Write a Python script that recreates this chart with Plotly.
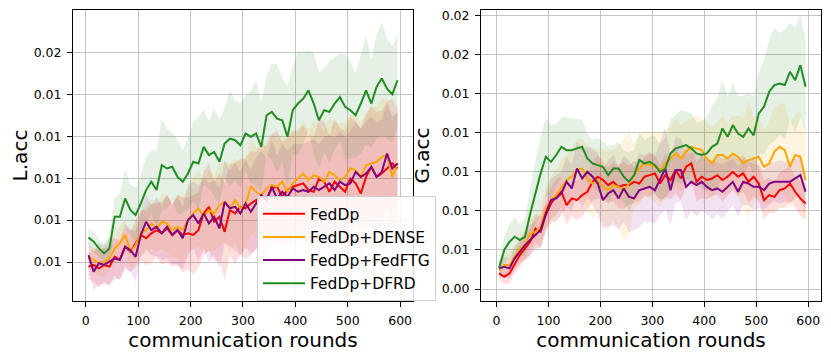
import plotly.graph_objects as go
from plotly.subplots import make_subplots

# communication rounds (sampled every 10 rounds)
rounds = list(range(5, 600, 10))

# ---- left panel: L.acc (mean and spread per method) ----
l_feddp = [0.00578, 0.00586, 0.0057, 0.00586, 0.00578, 0.00625, 0.0061, 0.00673, 0.00649, 0.00689,
           0.00729, 0.00713, 0.00737, 0.00752, 0.00737, 0.0076, 0.00729, 0.00752, 0.00729, 0.00737,
           0.00729, 0.00752, 0.00832, 0.00863, 0.00792, 0.00816, 0.00744, 0.00848, 0.00832, 0.00863,
           0.00856, 0.00879, 0.00895, 0.00911, 0.00903, 0.00951, 0.00959, 0.00911, 0.00943, 0.00959,
           0.00967, 0.00975, 0.00943, 0.00935, 0.00998, 0.00983, 0.00935, 0.00983, 0.00959, 0.00935,
           0.00998, 0.00975, 0.00927, 0.01006, 0.01054, 0.01006, 0.01022, 0.01046, 0.0107, 0.01046]
l_dense = [0.00625, 0.0061, 0.00594, 0.00602, 0.00617, 0.00665, 0.00689, 0.00729, 0.00649, 0.00681,
           0.00737, 0.00752, 0.00784, 0.0076, 0.00792, 0.00784, 0.00752, 0.00768, 0.00752, 0.008,
           0.00832, 0.00856, 0.00816, 0.00848, 0.00832, 0.00871, 0.00887, 0.00856, 0.00895, 0.00856,
           0.00879, 0.00959, 0.00935, 0.00919, 0.00951, 0.00967, 0.00959, 0.00983, 0.00935, 0.00975,
           0.00998, 0.01022, 0.0099, 0.01014, 0.01006, 0.00983, 0.0103, 0.01014, 0.0099, 0.01006,
           0.01046, 0.01038, 0.01006, 0.01062, 0.0107, 0.01078, 0.01102, 0.0111, 0.01006, 0.0107]
l_fedftg = [0.00633, 0.00554, 0.00594, 0.00586, 0.00602, 0.00617, 0.0061, 0.00673, 0.00657, 0.00625,
            0.00729, 0.00792, 0.00752, 0.00768, 0.00737, 0.00768, 0.00729, 0.00752, 0.00713, 0.008,
            0.00824, 0.00784, 0.00832, 0.00784, 0.00816, 0.0076, 0.00887, 0.00856, 0.00863, 0.00832,
            0.00879, 0.0084, 0.00879, 0.00919, 0.00895, 0.00959, 0.00903, 0.00935, 0.00911, 0.00951,
            0.00935, 0.00943, 0.00935, 0.00959, 0.00943, 0.00959, 0.00975, 0.00943, 0.00983, 0.00967,
            0.00975, 0.0103, 0.01006, 0.01022, 0.01054, 0.01006, 0.0103, 0.01117, 0.01046, 0.0107]
l_dfrd = [0.00717, 0.00697, 0.00665, 0.00641, 0.00665, 0.00816, 0.00816, 0.00903, 0.00848, 0.00824,
          0.00879, 0.00943, 0.00983, 0.00943, 0.01062, 0.01046, 0.01054, 0.01006, 0.00983, 0.01022,
          0.01078, 0.0107, 0.01149, 0.0111, 0.01125, 0.01078, 0.01165, 0.01189, 0.01181, 0.01157,
          0.01213, 0.01197, 0.01213, 0.01149, 0.013, 0.01316, 0.01284, 0.01276, 0.01197, 0.01324,
          0.01356, 0.01379, 0.01419, 0.01356, 0.01276, 0.01324, 0.01316, 0.01356, 0.01387, 0.0134,
          0.01324, 0.013, 0.01356, 0.01419, 0.01356, 0.01435, 0.01475, 0.01427, 0.014, 0.01467]

l_feddp_std = [0.0006, 0.0008, 0.0009, 0.0008, 0.0009, 0.0009, 0.001, 0.0009, 0.001, 0.0011,
               0.0012, 0.0013, 0.0014, 0.0013, 0.0015, 0.0016, 0.0015, 0.0017, 0.0018, 0.0017,
               0.0019, 0.0018, 0.002, 0.0021, 0.0019, 0.0021, 0.0023, 0.0022, 0.0024, 0.0023,
               0.0024, 0.0025, 0.0023, 0.0026, 0.0025, 0.0026, 0.0027, 0.0026, 0.0025, 0.0027,
               0.0026, 0.0028, 0.0027, 0.0026, 0.0028, 0.0029, 0.0027, 0.003, 0.0028, 0.0029,
               0.003, 0.0029, 0.0031, 0.003, 0.0029, 0.0031, 0.003, 0.0032, 0.0031, 0.0029]
l_dense_std = [0.0005, 0.0006, 0.0006, 0.0007, 0.0006, 0.0007, 0.0008, 0.0007, 0.0008, 0.0009,
               0.001, 0.0011, 0.0012, 0.0011, 0.0013, 0.0014, 0.0013, 0.0015, 0.0016, 0.0015,
               0.0017, 0.0018, 0.0017, 0.0019, 0.0018, 0.002, 0.0019, 0.0021, 0.002, 0.0022,
               0.0021, 0.0023, 0.0022, 0.0021, 0.0023, 0.0024, 0.0022, 0.0023, 0.0025, 0.0024,
               0.0023, 0.0025, 0.0024, 0.0026, 0.0025, 0.0024, 0.0026, 0.0025, 0.0027, 0.0026,
               0.0025, 0.0027, 0.0026, 0.0025, 0.0027, 0.0026, 0.0028, 0.0027, 0.0026, 0.0025]
l_fedftg_std = [0.0007, 0.0009, 0.001, 0.0009, 0.0011, 0.001, 0.0009, 0.0011, 0.001, 0.0012,
                0.0011, 0.0013, 0.0012, 0.0014, 0.0013, 0.0015, 0.0014, 0.0016, 0.0015, 0.0017,
                0.0016, 0.0018, 0.0017, 0.0019, 0.0018, 0.0019, 0.002, 0.0018, 0.0021, 0.002,
                0.0021, 0.002, 0.0022, 0.0021, 0.002, 0.0022, 0.0021, 0.0023, 0.0022, 0.0021,
                0.0023, 0.0022, 0.0024, 0.0023, 0.0022, 0.0024, 0.0023, 0.0025, 0.0024, 0.0023,
                0.0025, 0.0024, 0.0023, 0.0025, 0.0024, 0.0026, 0.0025, 0.0024, 0.0025, 0.0024]
l_dfrd_std = [0.0004, 0.0005, 0.0004, 0.0005, 0.0006, 0.0009, 0.0011, 0.0014, 0.0012, 0.0013,
              0.0014, 0.0016, 0.0015, 0.0019, 0.0022, 0.0019, 0.0016, 0.0018, 0.0015, 0.0017,
              0.0019, 0.0022, 0.0018, 0.0016, 0.0021, 0.002, 0.0017, 0.0023, 0.0019, 0.002,
              0.0018, 0.0022, 0.0025, 0.0021, 0.0019, 0.0023, 0.0026, 0.002, 0.0024, 0.0021,
              0.0025, 0.0022, 0.0019, 0.0024, 0.0023, 0.002, 0.0024, 0.0022, 0.0021, 0.0025,
              0.0023, 0.002, 0.0024, 0.0026, 0.0021, 0.0025, 0.0027, 0.0024, 0.0023, 0.0022]

# ---- right panel: G.acc ----
g_feddp = [0.0048, 0.00463, 0.0048, 0.00531, 0.00574, 0.00608, 0.00642, 0.0071, 0.00693, 0.00779,
           0.00838, 0.00872, 0.00898, 0.0083, 0.00864, 0.00855, 0.00881, 0.00898, 0.00949, 0.00975,
           0.00958, 0.00932, 0.00949, 0.00923, 0.00932, 0.00932, 0.00949, 0.0094, 0.00975, 0.00983,
           0.00992, 0.0094, 0.00983, 0.00958, 0.01009, 0.00966, 0.01026, 0.01043, 0.00949, 0.00975,
           0.00958, 0.00966, 0.00983, 0.00958, 0.00975, 0.01, 0.00975, 0.00992, 0.00949, 0.00975,
           0.0094, 0.00855, 0.00881, 0.00872, 0.00906, 0.00915, 0.0094, 0.00898, 0.00864, 0.00838]
g_dense = [0.00497, 0.00523, 0.00523, 0.00565, 0.00608, 0.00625, 0.00685, 0.00693, 0.00719, 0.00813,
           0.00855, 0.00881, 0.00923, 0.00958, 0.00975, 0.01009, 0.01017, 0.00966, 0.0094, 0.00958,
           0.00923, 0.00906, 0.00932, 0.00923, 0.00906, 0.0094, 0.00983, 0.01017, 0.01043, 0.01034,
           0.01026, 0.01009, 0.01043, 0.01068, 0.01094, 0.01068, 0.01103, 0.01128, 0.0112, 0.01111,
           0.01068, 0.01043, 0.01086, 0.01086, 0.01068, 0.01094, 0.01077, 0.01043, 0.0106, 0.01068,
           0.01077, 0.01026, 0.01043, 0.01103, 0.01128, 0.01111, 0.01026, 0.01086, 0.01077, 0.00958]
g_fedftg = [0.00506, 0.00514, 0.00506, 0.00557, 0.00591, 0.00625, 0.00651, 0.00676, 0.00702, 0.00787,
            0.00855, 0.00864, 0.00889, 0.00949, 0.00915, 0.01017, 0.00966, 0.01, 0.00975, 0.0094,
            0.00855, 0.00889, 0.00906, 0.00864, 0.00915, 0.00872, 0.00864, 0.00906, 0.00915, 0.00923,
            0.00906, 0.00966, 0.01017, 0.00906, 0.01009, 0.01009, 0.00923, 0.00949, 0.00932, 0.00949,
            0.00923, 0.00906, 0.00915, 0.00898, 0.00923, 0.00949, 0.00898, 0.00949, 0.0094, 0.00923,
            0.00923, 0.00906, 0.0094, 0.00949, 0.00949, 0.00949, 0.00949, 0.00966, 0.00983, 0.00898]
g_dfrd = [0.00506, 0.006, 0.00642, 0.00668, 0.00651, 0.00668, 0.00787, 0.00889, 0.00992, 0.01077,
          0.01051, 0.01086, 0.01128, 0.01111, 0.01111, 0.0112, 0.01128, 0.01068, 0.01043, 0.01034,
          0.01026, 0.00983, 0.01017, 0.01017, 0.00975, 0.00949, 0.00983, 0.0106, 0.01043, 0.01051,
          0.01034, 0.01, 0.01017, 0.01094, 0.0112, 0.01128, 0.01137, 0.0112, 0.01094, 0.01086,
          0.01094, 0.01128, 0.01145, 0.01222, 0.01179, 0.01239, 0.01196, 0.01179, 0.01222, 0.01187,
          0.01299, 0.01333, 0.0141, 0.01444, 0.01452, 0.01444, 0.01512, 0.01469, 0.01546, 0.01435]

g_feddp_std = [0.0003, 0.0004, 0.0005, 0.0005, 0.0006, 0.0006, 0.0007, 0.0007, 0.0008, 0.0007,
               0.0008, 0.0009, 0.0008, 0.001, 0.0009, 0.001, 0.0011, 0.0009, 0.001, 0.0011,
               0.001, 0.0009, 0.001, 0.0011, 0.0012, 0.001, 0.0011, 0.0009, 0.001, 0.0011,
               0.001, 0.0009, 0.0011, 0.001, 0.0012, 0.0011, 0.001, 0.0009, 0.001, 0.0011,
               0.001, 0.0009, 0.001, 0.0011, 0.001, 0.0009, 0.001, 0.0009, 0.0011, 0.001,
               0.0009, 0.001, 0.0009, 0.0008, 0.0009, 0.001, 0.0009, 0.0008, 0.0009, 0.0008]
g_dense_std = [0.0004, 0.0005, 0.0006, 0.0006, 0.0007, 0.0008, 0.0007, 0.0009, 0.001, 0.0011,
               0.0012, 0.0013, 0.0014, 0.0013, 0.0015, 0.0016, 0.0015, 0.0017, 0.0018, 0.0016,
               0.0019, 0.002, 0.0018, 0.0021, 0.0026, 0.0026, 0.0017, 0.0018, 0.0016, 0.0017,
               0.0018, 0.0019, 0.0017, 0.0016, 0.0018, 0.0017, 0.0016, 0.0015, 0.0017, 0.0016,
               0.0018, 0.0019, 0.0017, 0.002, 0.0018, 0.0019, 0.0021, 0.0023, 0.003, 0.0022,
               0.002, 0.0019, 0.0021, 0.0023, 0.0022, 0.0024, 0.0022, 0.0021, 0.0023, 0.0022]
g_fedftg_std = [0.0004, 0.0005, 0.0005, 0.0006, 0.0006, 0.0007, 0.0008, 0.0007, 0.0009, 0.001,
                0.0011, 0.0012, 0.0011, 0.0013, 0.0012, 0.0014, 0.0015, 0.0013, 0.0014, 0.0016,
                0.0015, 0.0017, 0.0018, 0.0016, 0.0017, 0.0018, 0.0016, 0.0019, 0.0017, 0.0018,
                0.0017, 0.0019, 0.0021, 0.0018, 0.0017, 0.0016, 0.0017, 0.0015, 0.0016, 0.0015,
                0.0014, 0.0015, 0.0013, 0.0014, 0.0013, 0.0012, 0.0013, 0.0012, 0.0011, 0.0012,
                0.0011, 0.001, 0.0011, 0.001, 0.0011, 0.001, 0.0011, 0.001, 0.0011, 0.001]
g_dfrd_std = [0.0004, 0.0007, 0.0009, 0.001, 0.0008, 0.001, 0.0013, 0.0016, 0.0019, 0.002,
              0.0019, 0.0016, 0.0015, 0.0017, 0.0016, 0.0015, 0.0014, 0.0013, 0.0012, 0.0014,
              0.0013, 0.0015, 0.0012, 0.0014, 0.0013, 0.0015, 0.0013, 0.0014, 0.0012, 0.0013,
              0.0015, 0.0014, 0.0016, 0.0018, 0.0017, 0.0019, 0.0017, 0.0018, 0.0016, 0.0017,
              0.0019, 0.0021, 0.0023, 0.0025, 0.002, 0.0022, 0.0019, 0.0021, 0.0018, 0.002,
              0.0021, 0.0024, 0.0027, 0.0029, 0.0026, 0.0028, 0.0025, 0.0027, 0.0026, 0.0024]

methods = ['FedDp', 'FedDp+DENSE', 'FedDp+FedFTG', 'FedDp+DFRD']
colors = ['#ff0000', '#ffa500', '#800080', '#228b22']
fills = ['rgba(255,0,0,0.13)', 'rgba(255,165,0,0.12)', 'rgba(128,0,128,0.11)', 'rgba(34,139,34,0.12)']

left_means = [l_feddp, l_dense, l_fedftg, l_dfrd]
left_stds = [l_feddp_std, l_dense_std, l_fedftg_std, l_dfrd_std]
right_means = [g_feddp, g_dense, g_fedftg, g_dfrd]
right_stds = [g_feddp_std, g_dense_std, g_fedftg_std, g_dfrd_std]

fig = make_subplots(rows=1, cols=2)

for col, means, stds in [(1, left_means, left_stds), (2, right_means, right_stds)]:
    # shaded spread first
    for m, s, fc in zip(means, stds, fills):
        upper = [a + b for a, b in zip(m, s)]
        lower = [a - b for a, b in zip(m, s)]
        fig.add_trace(go.Scatter(x=rounds + rounds[::-1], y=upper + lower[::-1],
                                 fill='toself', fillcolor=fc, line=dict(width=0),
                                 mode='lines', showlegend=False, hoverinfo='skip'),
                      row=1, col=col)
    for m, name, c in zip(means, methods, colors):
        fig.add_trace(go.Scatter(x=rounds, y=m, mode='lines', name=name,
                                 line=dict(color=c, width=2), showlegend=(col == 1)),
                      row=1, col=col)

axis_style = dict(showline=True, linecolor='black', linewidth=1, mirror=True,
                  showgrid=True, gridcolor='#c4c4c4', gridwidth=1, zeroline=False,
                  ticks='outside', ticklen=5, tickcolor='black', ticklabelstandoff=3,
                  ticklabeloverflow='allow', automargin=False,
                  tickfont=dict(size=12.5, color='black'))

fig.update_xaxes(**axis_style, tickvals=[0, 100, 200, 300, 400, 500, 600],
                 title=dict(text='communication rounds', font=dict(size=20, color='black'), standoff=2))
fig.update_xaxes(range=[-24.5, 624.5], domain=[0, 0.4545], row=1, col=1)
fig.update_xaxes(range=[-29.7, 624.7], domain=[0.5455, 1], row=1, col=2)

fig.update_yaxes(**axis_style, tickformat='.2f')
fig.update_yaxes(range=[0.00414, 0.01802], tickvals=[0.006, 0.008, 0.010, 0.012, 0.014, 0.016],
                 title=dict(text='L.acc', font=dict(size=20, color='black'), standoff=6), row=1, col=1)
fig.update_yaxes(range=[0.00339, 0.01828],
                 tickvals=[0.004, 0.006, 0.008, 0.010, 0.012, 0.014, 0.016, 0.018],
                 title=dict(text='G.acc', font=dict(size=20, color='black'), standoff=6), row=1, col=2)

# the page body has an 8px margin, so the figure is 8px smaller and margins shifted
fig.update_layout(
    width=823, height=350,
    margin=dict(l=65, r=10, t=2, b=57),
    paper_bgcolor='white', plot_bgcolor='white',
    font=dict(family='DejaVu Sans', color='black'),
    legend=dict(x=0.246, y=0.36, xanchor='left', yanchor='top',
                bgcolor='rgba(255,255,255,0.85)', bordercolor='#d0d0d0', borderwidth=1,
                font=dict(size=15.5, color='black'), tracegroupgap=0, itemwidth=42),
    showlegend=True,
)

fig.write_html("out.html")
